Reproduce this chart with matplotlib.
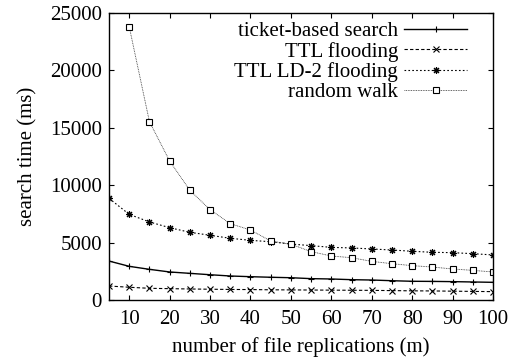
import matplotlib.pyplot as plt
import numpy as np

plt.rcParams['font.family'] = ['Liberation Serif', 'DejaVu Serif']

# search time (ms) against number of file replications
m = [5, 10, 15, 20, 25, 30, 35, 40, 45, 50, 55, 60, 65, 70, 75, 80, 85, 90, 95, 100]
ticket = [3430, 2970, 2710, 2480, 2360, 2240, 2130, 2070, 2020, 1980, 1900, 1870,
          1810, 1780, 1720, 1670, 1660, 1640, 1610, 1580]
ttl = [1260, 1150, 1060, 1030, 1000, 980, 960, 950, 930, 920, 910, 900,
       890, 880, 860, 840, 830, 810, 790, 770]
ttl_ld2 = [8880, 7490, 6830, 6330, 5930, 5670, 5410, 5230, 5110, 4910, 4770, 4620,
           4570, 4480, 4390, 4280, 4190, 4160, 4070, 3960]
m_rw = m[1:]
random_walk = [23800, 15550, 12130, 9580, 7900, 6680, 6130, 5170, 4890, 4250, 3870,
               3720, 3400, 3200, 3030, 2910, 2740, 2620, 2480]

fs = 15

fig = plt.figure(figsize=(5.15, 3.63), dpi=100)
ax = fig.add_axes([0.2117, 0.1722, 0.7456, 0.792])

ax.plot(m, ticket, color='black', lw=1.0, ls='-', marker='+', ms=5, mew=0.8,
        label='ticket-based search')
ax.plot(m, ttl, color='black', lw=0.8, ls=(0, (3, 2)), marker='x', ms=4, mew=0.8,
        label='TTL flooding')
ax.plot(m, ttl_ld2, color='black', lw=0.8, ls=(0, (1.5, 2)), marker=(8, 2, 0), ms=5,
        mew=0.8, label='TTL LD-2 flooding')
ax.plot(m_rw, random_walk, color='#333333', lw=0.6, ls=(0, (1, 1)), marker='s', ms=4,
        mew=0.8, mec='black', mfc='white', label='random walk')

ax.set_xlim(5, 100)
ax.set_ylim(0, 25000)
ax.set_xticks(np.arange(10, 101, 10))
ax.set_yticks(np.arange(0, 25001, 5000))
ax.tick_params(direction='in', length=3.6, top=True, right=True, labelsize=fs)
ax.tick_params(axis='x', pad=7)
ax.tick_params(axis='y', pad=5)
for s in ax.spines.values():
    s.set_linewidth(1.0)

ax.set_xlabel('number of file replications (m)', fontsize=fs, labelpad=6)
ax.set_ylabel('search time (ms)', fontsize=fs, labelpad=9)

ax.legend(loc='upper right', bbox_to_anchor=(0.932, 0.97), frameon=False,
          markerfirst=False, fontsize=fs, handlelength=3.0, handletextpad=0.3,
          labelspacing=0.02, borderpad=0, borderaxespad=0)

fig.savefig('out.png', dpi=100)
